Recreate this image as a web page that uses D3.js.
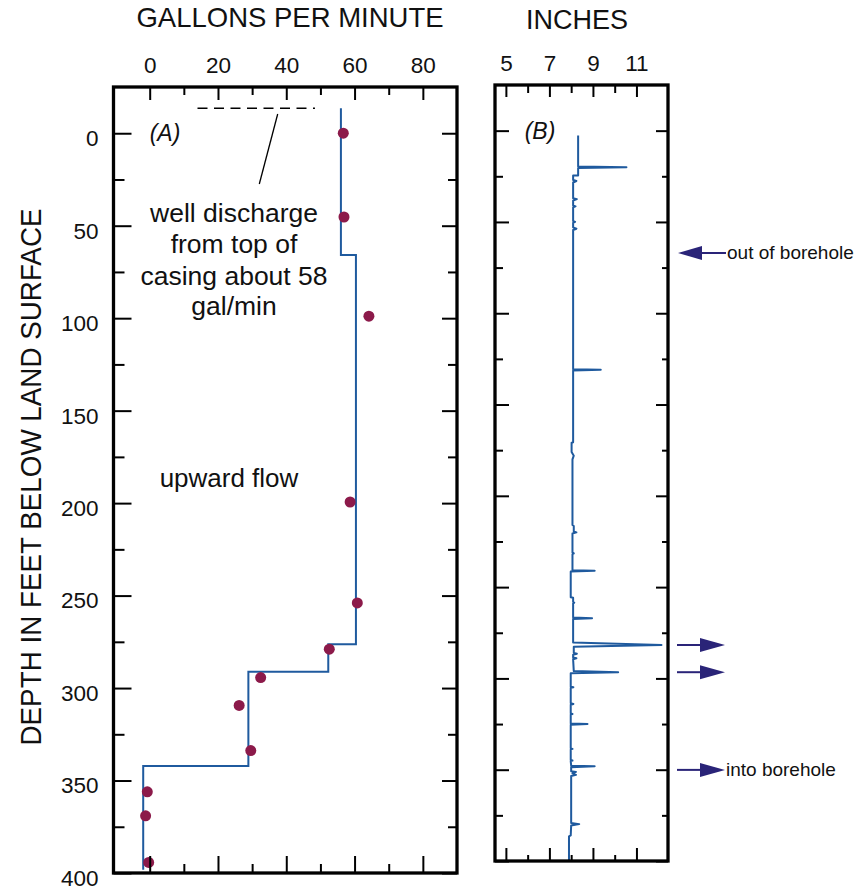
<!DOCTYPE html>
<html><head><meta charset="utf-8">
<script src="https://cdn.jsdelivr.net/npm/d3@7"></script>
<style>body{margin:0;background:#fff} text{font-family:'Liberation Sans',Arial,Helvetica,sans-serif;fill:#111}</style>
</head><body><svg id="c" width="857" height="890"></svg>
<script>
// ---------- data ----------
const flowDepth = [0, 45.3, 98.9, 199.4, 254, 279, 294.3, 309.4, 333.8, 356.1, 369.1, 394.3];
const flowGpm   = [56.7, 56.9, 64.2, 58.7, 60.8, 52.6, 32.5, 26.2, 29.6, -0.7, -1.2, -0.3];
const stepTop    = [-13.5, 65.8, 276.3, 291.2, 342.1];
const stepBottom = 398.3;
const stepGpm    = [56.0, 60.4, 52.3, 28.9, -1.9];
const dischargeGpm = [14, 48.4];
const dischargeDepth = -13.5;
const calDepth = [2.7,19.7,20.1,20.5,24.6,24.6,27.0,27.6,28.4,37.0,37.5,38.3,41.0,41.5,42.0,49.5,50.0,50.5,53.0,53.7,54.4,
  130.7,131.0,131.4,170.7,170.9,176.0,178.0,180.0,216.0,216.5,219.5,220.0,220.6,231.0,231.5,232.0,240.7,241.0,241.4,
  255.6,255.8,258.0,258.5,259.0,266.6,267.0,267.4,280.3,281.7,282.6,286.0,286.5,287.0,288.6,289.0,289.5,296.0,296.6,297.2,
  304.5,304.8,305.2,313.6,314.0,314.4,319.2,319.5,319.8,324.7,325.0,325.4,338.3,338.6,338.9,344.7,345.0,345.3,
  347.8,348.1,348.6,350.8,351.2,352.0,352.8,353.4,379.2,379.8,380.5,386.0,386.5,400];
const calInch = [8.32,8.32,10.54,8.32,8.32,8.09,8.09,8.24,8.09,8.09,8.26,8.09,8.09,8.2,8.09,8.09,8.18,8.09,8.09,8.24,8.09,
  8.09,9.36,8.09,8.09,8.02,8.02,8.12,8.06,8.06,8.12,8.12,8.24,8.06,8.06,8.12,8.06,8.06,9.08,7.98,
  7.98,8.09,8.09,8.14,8.09,8.09,8.96,8.09,8.09,12.15,8.12,8.12,8.26,8.09,8.09,8.24,8.09,8.12,10.16,7.98,
  7.98,8.1,7.98,7.98,8.1,7.98,7.98,8.06,7.98,7.98,8.75,7.98,7.98,8.06,7.98,7.98,8.06,7.98,
  8.0,9.08,8.0,8.0,8.22,8.06,8.22,8.0,8.0,8.37,8.0,7.98,7.9,7.9];
const arrowDepth = [67, 281.7, 296.6, 350.1];
const arrowDir   = ["left", "right", "right", "right"];
const arrowLabel = ["out of borehole", "", "", "into borehole"];
const gpmMajor = [0, 20, 40, 60, 80];
const gpmMinor = [10, 30, 50, 70];
const inchMajor = [5, 7, 9, 11];
const inchMinor = [6, 8, 10];
const depthMajor = [0, 50, 100, 150, 200, 250, 300, 350, 400];
const depthMinor = [25, 75, 125, 175, 225, 275, 325, 375];

// ---------- layout ----------
const svg = d3.select("#c");
const BLUE = "#1f5a9e", DOT = "#8c1a4a", ARROW = "#2a2478";
const xA = d3.scaleLinear().domain([-10.6, 90]).range([113.5, 457]);
const yA = d3.scaleLinear().domain([-25, 400]).range([87, 873]);
const xB = d3.scaleLinear().domain([4.5, 12.45]).range([495, 668]);
const yB = d3.scaleLinear().domain([-25, 400]).range([85, 861]);

function axes(g, x, y, o) {
  const [x0, x1] = x.range(), [y0, y1] = y.range();
  const mk = (ax, tr) => {
    const a = g.append("g").attr("transform", tr).call(ax);
    a.select(".domain").remove();
    a.selectAll("line").attr("stroke", "#000").attr("stroke-width", 2);
    a.selectAll("text").attr("font-size", 22.5).attr("fill", "#111");
    return a;
  };
  mk(d3.axisTop(x).tickValues(o.xMaj).tickSize(-o.top[0]).tickPadding(14).tickFormat(d3.format("d")), `translate(0,${y0})`);
  mk(d3.axisTop(x).tickValues(o.xMin).tickSize(-o.top[1]).tickFormat(""), `translate(0,${y0})`);
  mk(d3.axisBottom(x).tickValues(o.xMaj).tickSize(-o.bot[0]).tickFormat(""), `translate(0,${y1})`);
  mk(d3.axisBottom(x).tickValues(o.xMin).tickSize(-o.bot[1]).tickFormat(""), `translate(0,${y1})`);
  const L = mk(d3.axisLeft(y).tickValues(depthMajor).tickSize(-o.left[0]).tickPadding(15)
      .tickFormat(o.yLabels ? d3.format("d") : ""), `translate(${x0},0)`);
  L.selectAll("text").attr("dy", "0.55em");
  mk(d3.axisLeft(y).tickValues(depthMinor).tickSize(-o.left[1]).tickFormat(""), `translate(${x0},0)`);
  mk(d3.axisRight(y).tickValues(depthMajor).tickSize(-o.right[0]).tickFormat(""), `translate(${x1},0)`);
  mk(d3.axisRight(y).tickValues(depthMinor).tickSize(-o.right[1]).tickFormat(""), `translate(${x1},0)`);
  g.append("rect").attr("x", x0).attr("y", y0).attr("width", x1 - x0).attr("height", y1 - y0)
    .attr("fill", "none").attr("stroke", "#000").attr("stroke-width", 3.3);
}

// ---------- panel A ----------
const gA = svg.append("g");
const stepPts = [];
stepGpm.forEach((v, i) => {
  stepPts.push([v, stepTop[i]]);
  stepPts.push([v, i < stepTop.length - 1 ? stepTop[i + 1] : stepBottom]);
});
gA.append("path").datum(stepPts)
  .attr("d", d3.line().x(d => xA(d[0])).y(d => yA(d[1])))
  .attr("fill", "none").attr("stroke", BLUE).attr("stroke-width", 2);
gA.selectAll("circle").data(flowDepth).join("circle")
  .attr("cx", (d, i) => xA(flowGpm[i])).attr("cy", d => yA(d)).attr("r", 5.5).attr("fill", DOT);
gA.append("line").attr("x1", xA(dischargeGpm[0])).attr("x2", xA(dischargeGpm[1]))
  .attr("y1", yA(dischargeDepth)).attr("y2", yA(dischargeDepth))
  .attr("stroke", "#000").attr("stroke-width", 1.5).attr("stroke-dasharray", "10,6.5");
gA.append("line").attr("x1", 277.7).attr("y1", 114).attr("x2", 259.3).attr("y2", 184)
  .attr("stroke", "#000").attr("stroke-width", 1.3);
axes(gA, xA, yA, {xMaj: gpmMajor, xMin: gpmMinor, top: [13, 8], bot: [17, 9], left: [18, 11], right: [15, 9], yLabels: true});
gA.append("text").attr("x", 165).attr("y", 141).attr("text-anchor", "middle")
  .attr("font-size", 23).attr("font-style", "italic").text("(A)");
["well discharge", "from top of", "casing about 58", "gal/min"].forEach((t, i) => {
  gA.append("text").attr("x", 234).attr("y", [221.7, 253.3, 285, 315][i]).attr("text-anchor", "middle")
    .attr("font-size", 26.5).text(t);
});
gA.append("text").attr("x", 229).attr("y", 486.7).attr("text-anchor", "middle").attr("font-size", 26).text("upward flow");
svg.append("text").attr("x", 290).attr("y", 27).attr("text-anchor", "middle").attr("font-size", 27.5).text("GALLONS PER MINUTE");

// ---------- panel B ----------
const gB = svg.append("g");
gB.append("path").datum(calDepth.map((d, i) => [calInch[i], d]))
  .attr("d", d3.line().x(d => xB(d[0])).y(d => yB(d[1])))
  .attr("fill", "none").attr("stroke", BLUE).attr("stroke-width", 2).attr("stroke-linejoin", "round");
axes(gB, xB, yB, {xMaj: inchMajor, xMin: inchMinor, top: [12, 8], bot: [13, 6], left: [14, 8], right: [12, 6], yLabels: false});
gB.append("text").attr("x", 540).attr("y", 139).attr("text-anchor", "middle")
  .attr("font-size", 23).attr("font-style", "italic").text("(B)");
svg.append("text").attr("x", 577).attr("y", 28.5).attr("text-anchor", "middle").attr("font-size", 27).text("INCHES");

// arrows
const xr = xB.range()[1];
arrowDepth.forEach((d, i) => {
  const y = yB(d);
  const g = svg.append("g").attr("fill", ARROW).attr("stroke", ARROW);
  if (arrowDir[i] === "right") {
    g.append("line").attr("x1", xr + 9).attr("x2", xr + 34).attr("y1", y).attr("y2", y).attr("stroke-width", 2);
    g.append("path").attr("stroke", "none")
      .attr("d", `M${xr + 32},${y - 7}L${xr + 57},${y}L${xr + 32},${y + 7}Z`);
    if (arrowLabel[i]) svg.append("text").attr("x", xr + 58).attr("y", y + 6).attr("font-size", 19).text(arrowLabel[i]);
  } else {
    g.append("line").attr("x1", xr + 32).attr("x2", xr + 58).attr("y1", y).attr("y2", y).attr("stroke-width", 2);
    g.append("path").attr("stroke", "none")
      .attr("d", `M${xr + 10},${y}L${xr + 34},${y - 7}L${xr + 34},${y + 7}Z`);
    svg.append("text").attr("x", xr + 59).attr("y", y + 6).attr("font-size", 19).text(arrowLabel[i]);
  }
});

// y axis title
svg.append("text").attr("transform", "translate(41,477) rotate(-90)").attr("text-anchor", "middle")
  .attr("font-size", 29).attr("textLength", 537).attr("lengthAdjust", "spacingAndGlyphs")
  .text("DEPTH IN FEET BELOW LAND SURFACE");
</script></body></html>
